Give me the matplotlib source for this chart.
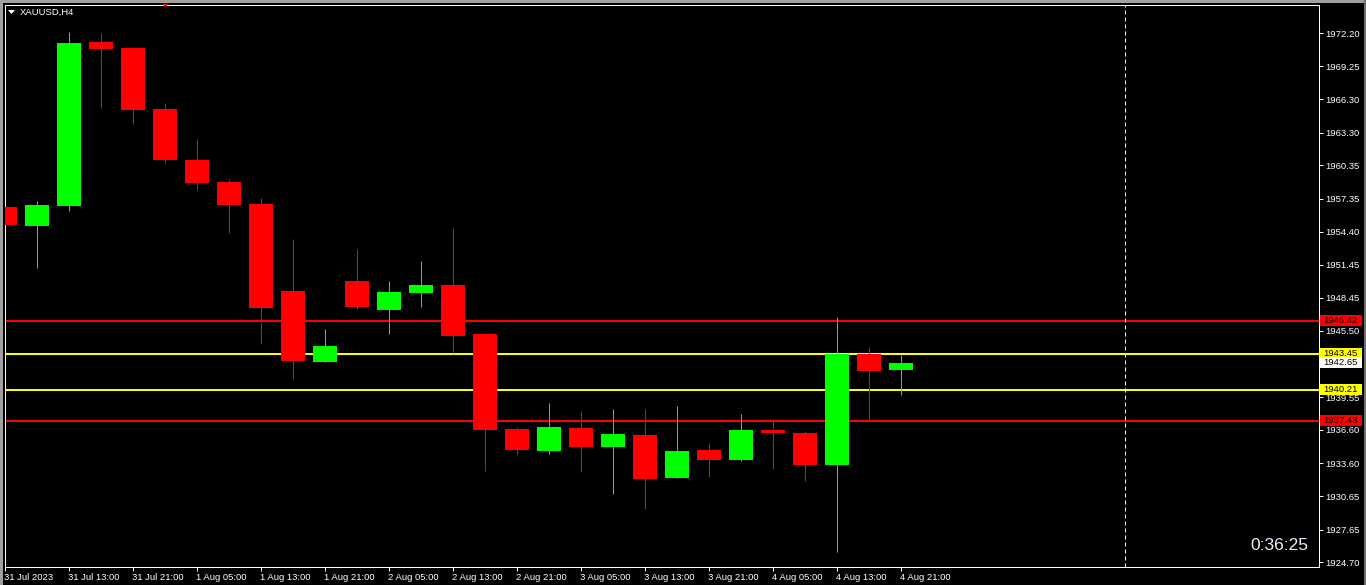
import matplotlib
matplotlib.use("Agg")
import matplotlib.pyplot as plt
import matplotlib.transforms as mtransforms
from matplotlib.patches import Rectangle, Polygon

# ---------------- data ----------------
opens = [1956.62, 1954.92, 1956.71, 1971.44, 1970.90, 1965.42, 1960.84, 1958.87, 1956.89, 1949.08,
         1942.70, 1949.98, 1947.37, 1948.90, 1949.62, 1945.22, 1936.69, 1934.71, 1936.78, 1935.07,
         1936.15, 1932.29, 1934.80, 1933.90, 1936.60, 1936.33, 1933.45, 1943.42, 1941.99]
highs = [1958.42, 1957.16, 1972.33, 1972.24, 1970.99, 1965.96, 1962.73, 1959.14, 1957.43, 1953.75,
         1945.67, 1952.85, 1949.98, 1951.77, 1954.73, 1945.31, 1936.87, 1939.03, 1938.30, 1938.48,
         1938.48, 1938.75, 1935.43, 1938.03, 1937.58, 1936.51, 1946.75, 1944.05, 1943.33]
lows = [1953.03, 1951.14, 1956.26, 1965.51, 1964.07, 1960.57, 1958.15, 1954.29, 1944.32, 1941.18,
        1942.70, 1947.50, 1945.22, 1947.64, 1943.51, 1932.92, 1934.35, 1934.44, 1932.83, 1930.85,
        1929.50, 1932.29, 1932.38, 1933.81, 1933.09, 1932.02, 1925.65, 1937.50, 1939.74]
closes = [1955.01, 1956.80, 1971.35, 1970.81, 1965.33, 1960.84, 1958.78, 1956.80, 1947.55, 1942.79,
          1944.14, 1947.64, 1948.99, 1949.62, 1945.04, 1936.60, 1934.80, 1936.87, 1935.07, 1936.24,
          1932.20, 1934.71, 1933.90, 1936.60, 1936.33, 1933.45, 1943.42, 1941.90, 1942.65]

xtick_bars = [0, 2, 4, 6, 8, 10, 12, 14, 16, 18, 20, 22, 24, 26, 28]
xtick_labels = ["31 Jul 2023", "31 Jul 13:00", "31 Jul 21:00", "1 Aug 05:00", "1 Aug 13:00",
                "1 Aug 21:00", "2 Aug 05:00", "2 Aug 13:00", "2 Aug 21:00", "3 Aug 05:00",
                "3 Aug 13:00", "3 Aug 21:00", "4 Aug 05:00", "4 Aug 13:00", "4 Aug 21:00"]
ytick_values = [1972.20, 1969.25, 1966.30, 1963.30, 1960.35, 1957.35, 1954.40, 1951.45, 1948.45,
                1945.50, 1939.55, 1936.60, 1933.60, 1930.65, 1927.65, 1924.70]

red_levels = [1946.42, 1937.43]
yellow_levels = [1943.45, 1940.21]
current_price = 1942.65
future_bar = 35
symbol_title = "XAUUSD,H4"
timer_text = "0:36:25"

# ---------------- figure ----------------
W, H = 1366, 585
fig = plt.figure(figsize=(W / 100, H / 100), dpi=100, facecolor="black")
L, R, T, B = 4.5, 1318.5, 4.5, 566.5
ax = fig.add_axes([L / W, 1 - B / H, (R - L) / W, (B - T) / H])
ax.set_facecolor("black")

px = 32.0  # pixels per bar
ax.set_xlim((L - 5) / px, (R - 5) / px)
ylo, yhi = 1924.34, 1974.80
ax.set_ylim(ylo, yhi)
ppx = (yhi - ylo) / (B - T)  # price per pixel

GREEN, RED, YEL = "#00FF00", "#FF0000", "#FFFF00"
lw1 = 72.0 / 100  # 1 px in points
FS = 6.8

# level lines
for lv in red_levels:
    ax.axhline(lv, color=RED, lw=2 * lw1, zorder=1)
for lv in yellow_levels:
    ax.axhline(lv, color=YEL, lw=2 * lw1, zorder=1)

# candles
for i, (o, h, l, c) in enumerate(zip(opens, highs, lows, closes)):
    col = GREEN if c >= o else RED
    ax.vlines(i, l, h, color=col, lw=lw1, zorder=2)
    bot = min(o, c)
    ht = max(abs(c - o), 0.25)
    ax.bar(i, ht, bottom=bot, width=0.78, color=col, edgecolor=col, lw=0, zorder=3)

# dashed future line
ax.axvline(future_bar, color="white", lw=lw1, ls=(0, (4, 3)), zorder=4)

# spines / ticks
for s in ax.spines.values():
    s.set_color("white")
    s.set_linewidth(lw1)
ax.set_xticks(xtick_bars)
ax.set_xticklabels(xtick_labels, ha="left")
ax.yaxis.tick_right()
ax.set_yticks(ytick_values)
ax.set_yticklabels([f"{v:.2f}" for v in ytick_values])
ax.tick_params(axis="x", colors="white", length=3, width=lw1, pad=2, labelsize=FS, labelcolor="white")
ax.tick_params(axis="y", colors="white", length=3, width=lw1, pad=2, labelsize=FS, labelcolor="white")
for lab in ax.get_xticklabels() + ax.get_yticklabels():
    lab.set_fontfamily("Liberation Sans")
offset = mtransforms.ScaledTranslation(-1 / 100, 0, fig.dpi_scale_trans)
for lab in ax.get_xticklabels():
    lab.set_transform(lab.get_transform() + offset)

# price labels on right axis
trans = mtransforms.blended_transform_factory(ax.transAxes, ax.transData)
def price_box(val, fc):
    x0 = 1 + 1.0 / (R - L)
    bw = 42.0 / (R - L)
    bh = 11.0 * ppx
    ax.add_patch(Rectangle((x0, val - bh / 2), bw, bh, transform=trans, fc=fc, ec="none",
                           clip_on=False, zorder=9))
    ax.text(x0 + bw / 2, val, f"{val:.2f}", transform=trans, ha="center", va="center",
            fontsize=FS, family="Liberation Sans", color="black", clip_on=False, zorder=10)
price_box(red_levels[0], RED)
price_box(yellow_levels[0], YEL)
price_box(current_price, "white")
price_box(yellow_levels[1], YEL)
price_box(red_levels[1], RED)

# title with triangle
fig.patches.append(Polygon([[8 / W, 1 - 10 / H], [15 / W, 1 - 10 / H], [11.5 / W, 1 - 14 / H]],
                           closed=True, transform=fig.transFigure, fc="white", ec="none"))
fig.text(20 / W, 1 - 12.5 / H, symbol_title, color="white", fontsize=FS,
         family="Liberation Sans", ha="left", va="center")

# small red marker at top
fig.patches.append(Polygon([[162.5 / W, 1 - 4 / H], [168.5 / W, 1 - 4 / H], [165.5 / W, 1 - 7.5 / H]],
                           closed=True, transform=fig.transFigure, fc=RED, ec="none"))

# timer
fig.text(1308 / W, 1 - 545.5 / H, timer_text, color="#E8F0FF", fontsize=12.5,
         family="Liberation Sans", ha="right", va="center")

# outer window border (gray)
fig.patches.append(Rectangle((0, 0), 2.5 / W, 1, transform=fig.transFigure, fc="#A0A0A0", ec="none"))
fig.patches.append(Rectangle((0, 1 - 2.5 / H), 1, 2.5 / H, transform=fig.transFigure, fc="#A0A0A0", ec="none"))
fig.patches.append(Rectangle((1 - 2.5 / W, 0), 2.5 / W, 1, transform=fig.transFigure, fc="#707070", ec="none"))

fig.savefig("out.png", dpi=100, facecolor="black")
